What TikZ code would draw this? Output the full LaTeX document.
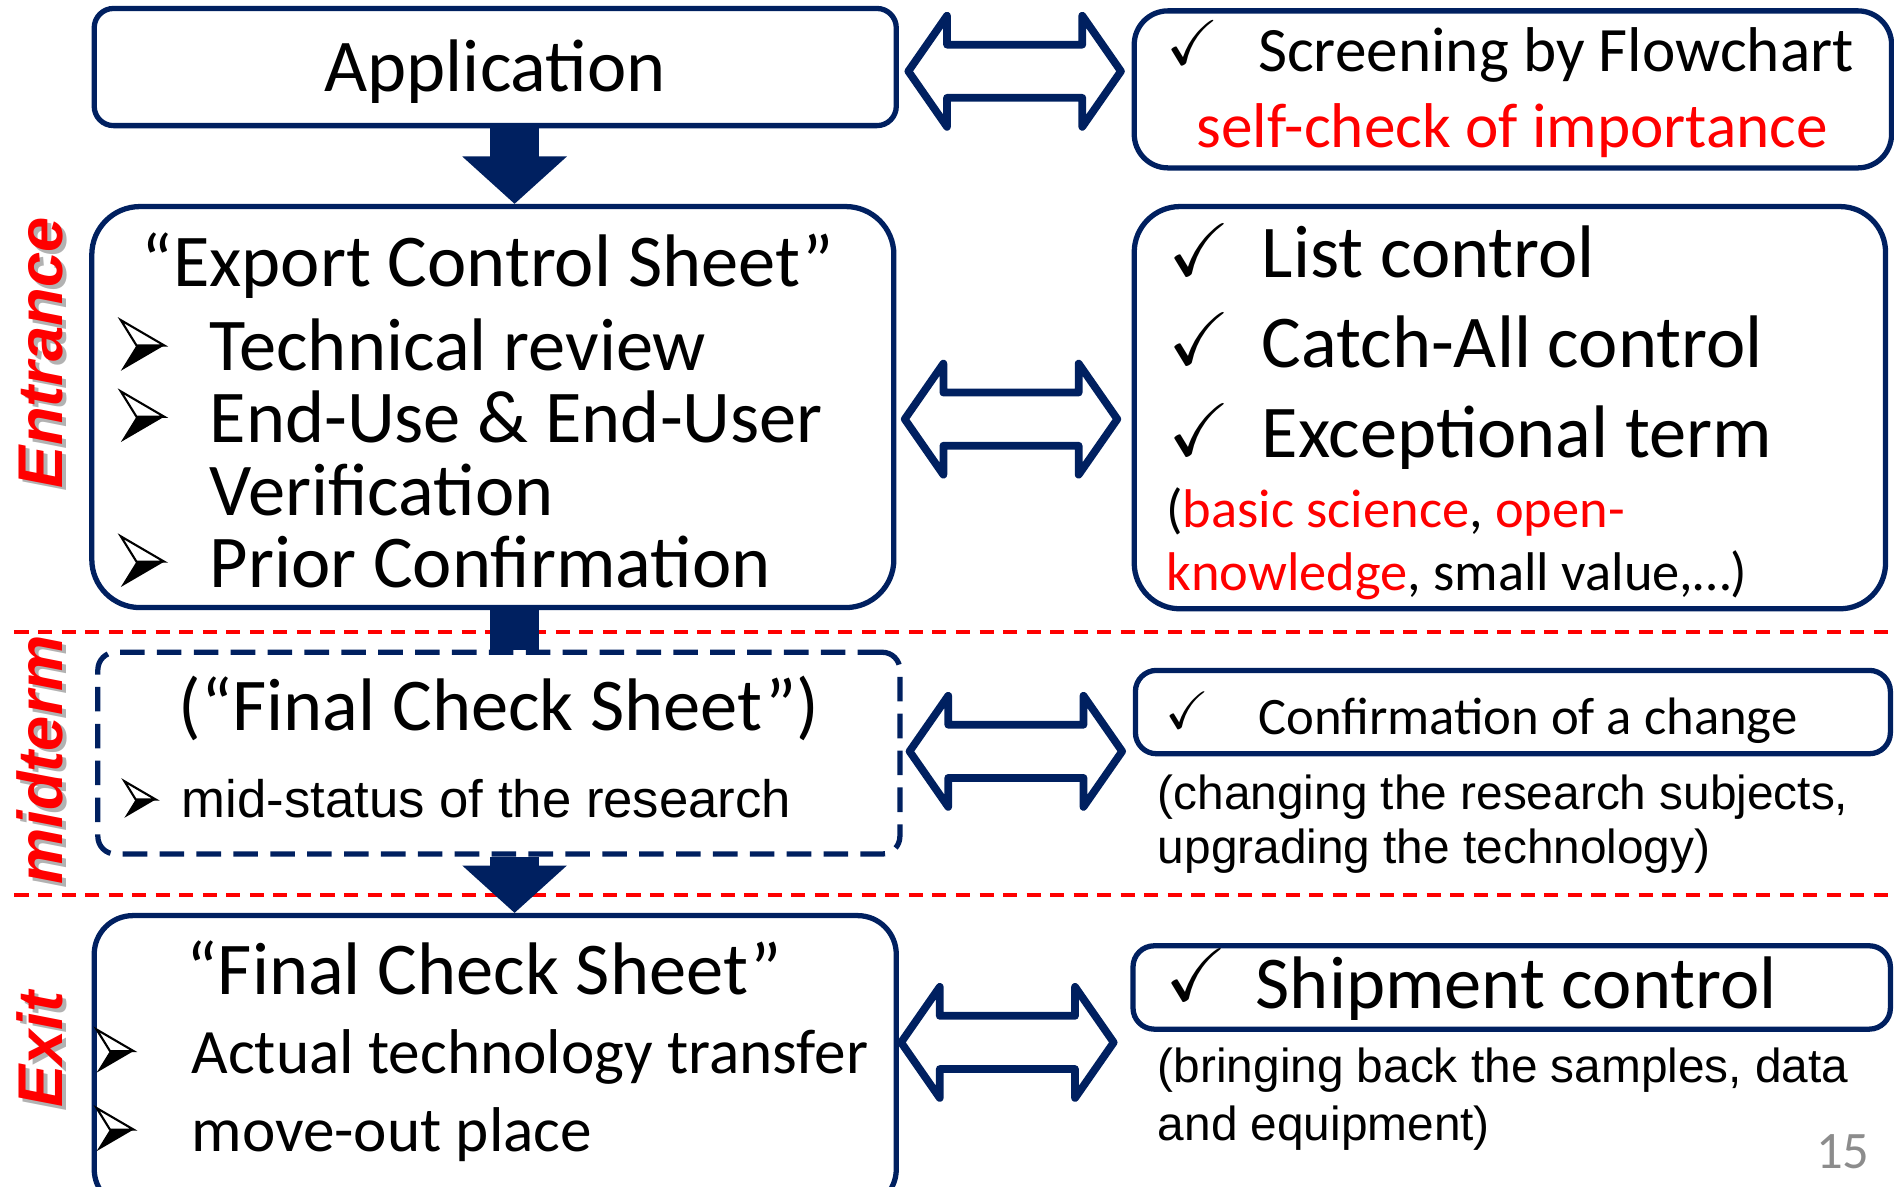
\documentclass[tikz,border=0pt]{standalone}
\usepackage{amssymb}
\usepackage{fontspec}
\setmainfont{Carlito}
\newfontfamily\arialfont{Liberation Sans}
\usetikzlibrary{positioning,arrows.meta,fit}
\definecolor{navy}{RGB}{0,32,96}
\definecolor{pagegray}{RGB}{140,140,140}
\tikzset{%
box/.style={draw=navy,line width=1.5pt,rounded corners=#1,inner sep=0pt},
box/.default=6pt,
dashbox/.style={box=5pt,dash pattern=on 7pt off 3.5pt},
stem/.style={draw=navy,line width=14.1pt},
flow/.style={stem,-{Triangle[width=29pt,length=13.5pt]}},
phase/.style={draw=red,line width=1.2pt,dash pattern=on 4pt off 2.7pt},
bigfont/.style={font=\fontsize{21.2}{25}\selectfont,inner sep=0pt},
midfont/.style={font=\fontsize{18}{22}\selectfont,inner sep=0pt},
smallfont/.style={font=\fontsize{15.5}{19}\selectfont,inner sep=0pt},
notefont/.style={font=\arialfont\fontsize{13.6}{16}\selectfont,inner sep=0pt,anchor=base west},
stage/.style={font=\arialfont\bfseries\itshape\fontsize{18}{22}\selectfont,text=red,rotate=90,inner sep=0pt},
stageshadow/.style={stage,text=black!30},
pics/twoway/.style={code={
  \draw[navy,line width=2.2pt,fill=white,line join=round] (-88,0) -- (-56,-46) -- (-56,-22) -- (56,-22) -- (56,-46)
    -- (88,0) -- (56,46) -- (56,22) -- (-56,22) -- (-56,46) -- cycle;}},
pics/pointer/.style={code={
  \draw[line width=0.6pt,fill=white] (0,-42) -- (36,-21) -- (13,-21) -- cycle;
  \fill (13,-21) -- (36,-21) -- (0,0) -- cycle;}}
}

\begin{document}
\begin{tikzpicture}[x=0.01208cm,y=-0.01208cm]
\useasboundingbox (0,0) rectangle (1568,982);

\draw[phase] (12,523) -- (1568,523);
\draw[phase] (12,741) -- (1568,741);

% left column
\node[box=5.5pt,fit={(78,7) (742,104)}] (app) {};
\node[box=13.7pt,fit={(76,171) (740,503)}] (export) {};
\node[dashbox,fit={(81,540) (745,707)}] (midbox) {};
\node[box=11pt,fit={(78,758) (742,1000)}] (exit) {};
\coordinate (spine) at (426,0);

\draw[flow] (app.south -| spine) -- (export.north -| spine);
\draw[stem] (export.south -| spine) -- (midbox.north -| spine);
\draw[flow] (midbox.south -| spine) -- (exit.north -| spine);

\node[bigfont,anchor=base] (apptxt) at (410,76) {Application};

\node[bigfont,anchor=base] (ecs) at (404,237) {“Export Control Sheet”};
\node[bigfont,anchor=base west] (tech) at (173,307) {Technical review};
\node[bigfont,anchor=base west] (enduse) at (173,366) {End-Use \& End-User};
\node[bigfont,anchor=base west] (verif) at (173,427) {Verification};
\node[bigfont,anchor=base west] (prior) at (173,486) {Prior Confirmation};
\pic at (100,307) {pointer};
\pic at (100,366) {pointer};
\pic at (100,486) {pointer};

\node[bigfont,anchor=base] (fcsmid) at (413,605) {(“Final Check Sheet”)};
\pic[scale=.72] at (103,677) {pointer};
\node[notefont,font=\arialfont\fontsize{15}{18}\selectfont] (status) at (150,677) {mid-status of the research};

\node[bigfont,anchor=base] (fcsexit) at (401,823) {“Final Check Sheet”};
\pic[scale=.85] at (80,888) {pointer};
\pic[scale=.85] at (80,953) {pointer};
\node[midfont,anchor=base west] (transfer) at (158,889) {Actual technology transfer};
\node[midfont,anchor=base west] (moveout) at (158,953) {move-out place};

% stage labels
\node[stageshadow] at (37,295) {Entrance};
\node[stage] (entrance) at (34,292) {Entrance};
\node[stageshadow] at (36,632) {midterm};
\node[stage] (midterm) at (33,629) {midterm};
\node[stageshadow] at (36,872) {Exit};
\node[stage] (exitlbl) at (33,869) {Exit};

% right column
\node[box=9.6pt,fit={(939,9) (1566,139)}] (r1) {};
\node[box=13pt,fit={(939,171) (1561,504)}] (r2) {};
\node[box=6pt,fit={(940,555) (1565,624)}] (r3) {};
\node[box=6pt,fit={(938,783) (1565,852)}] (r4) {};

\pic at (840,59) {twoway};
\pic at (837,347) {twoway};
\pic at (841,622) {twoway};
\pic at (834,863) {twoway};

\node[midfont,anchor=base west] (chk1) at (965,53) {$\checkmark$};
\node[midfont,anchor=base west] (screen) at (1041,59) {Screening by Flowchart};
\node[midfont,anchor=base,text=red] (selfchk) at (1252,122) {self-check of importance};

\node[bigfont,anchor=base west] (chk2) at (967,228) {$\checkmark$};
\node[bigfont,anchor=base west] (chk3) at (967,302) {$\checkmark$};
\node[bigfont,anchor=base west] (chk4) at (967,377) {$\checkmark$};
\node[bigfont,anchor=base west] (list) at (1044,230) {List control};
\node[bigfont,anchor=base west] (catch) at (1044,304) {Catch-All control};
\node[bigfont,anchor=base west] (except) at (1044,379) {Exceptional term};
\node[smallfont,anchor=base west] (basic) at (965,437) {(\textcolor{red}{basic science}, \textcolor{red}{open-}};
\node[smallfont,anchor=base west] (knowl) at (965,489) {\textcolor{red}{knowledge}, small value,…)};

\node[smallfont,font=\fontsize{15}{18}\selectfont,anchor=base west] (chk5) at (964,603) {$\checkmark$};
\node[smallfont,font=\fontsize{15}{18}\selectfont,anchor=base west] (change) at (1041,608) {Confirmation of a change};
\node[notefont] (subj) at (958,670) {(changing the research subjects,};
\node[notefont] (upgr) at (958,715) {upgrading the technology)};

\node[bigfont,anchor=base west] (chk6) at (964,828) {$\checkmark$};
\node[bigfont,anchor=base west] (ship) at (1039,835) {Shipment control};
\node[notefont] (bring) at (958,896) {(bringing back the samples, data};
\node[notefont] (equip) at (958,944) {and equipment)};

\node[smallfont,font=\fontsize{15}{18}\selectfont,anchor=base west,text=pagegray] (pnum) at (1503,967) {15};
\end{tikzpicture}
\end{document}
